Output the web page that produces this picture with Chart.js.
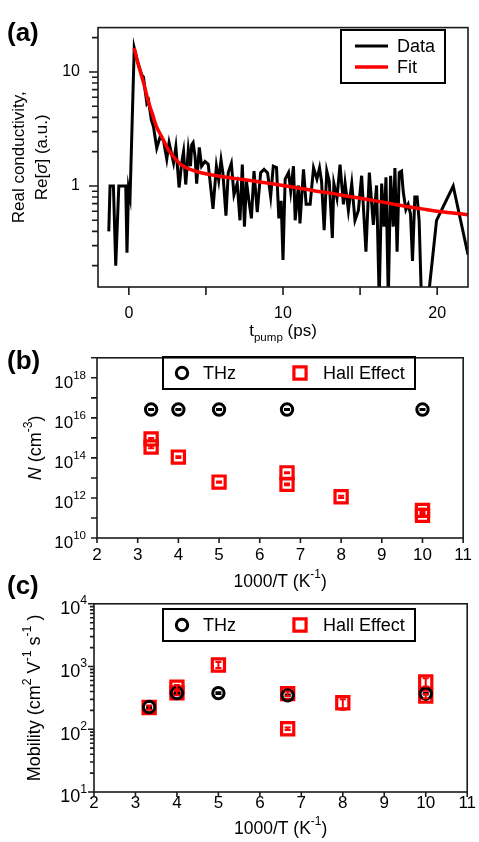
<!DOCTYPE html>
<html>
<head>
<meta charset="utf-8">
<script src="https://cdn.jsdelivr.net/npm/chart.js@4.4.1/dist/chart.umd.min.js"></script>
<style>
  body { margin: 0; background: #fff; }
  #wrap { position: relative; width: 479px; height: 842px; }
  .panel { position: absolute; left: 0; width: 479px; }
  .tag { position: absolute; left: 7px; font: bold 26px "Liberation Sans", Arial, sans-serif; line-height: 1; }
</style>
</head>
<body>
<div id="wrap">
  <div class="panel" style="top:0;height:346px"><canvas id="chartA"></canvas></div>
  <div class="panel" style="top:346px;height:246px"><canvas id="chartB"></canvas></div>
  <div class="panel" style="top:592px;height:250px"><canvas id="chartC"></canvas></div>
  <div class="tag" style="top:19px">(a)</div>
  <div class="tag" style="top:347px">(b)</div>
  <div class="tag" style="top:572px">(c)</div>
</div>
<script>
// (a) transient photoconductivity
const decayTime = [-1.3, -1.22, -1.0, -0.85, -0.65, -0.2, -0.12, -0.02, 0.08, 0.35,
  0.55, 0.84, 0.95, 1.05, 1.17, 1.28, 1.46, 1.6, 1.81, 2.03,
  2.25, 2.46, 2.61, 2.9, 3.05, 3.26, 3.43, 3.55, 3.69, 3.86,
  4.0, 4.08, 4.17, 4.3, 4.4, 4.57, 4.72, 4.94, 5.15, 5.46,
  5.68, 5.83, 5.98, 6.1, 6.3, 6.45, 6.65, 6.82, 7.03, 7.21,
  7.36, 7.5, 7.63, 7.79, 7.95, 8.12, 8.33, 8.55, 8.77, 9.0,
  9.2, 9.37, 9.58, 9.73, 9.88, 10.0, 10.14, 10.36, 10.5, 10.68,
  10.79, 11.0, 11.1, 11.33, 11.5, 11.76, 11.98, 12.2, 12.37, 12.5,
  12.67, 12.84, 13.0, 13.2, 13.3, 13.5, 13.7, 13.92, 14.03, 14.24,
  14.46, 14.67, 14.89, 15.1, 15.38, 15.6, 15.86, 16.07, 16.24, 16.4,
  16.55, 16.68, 16.83, 16.98, 17.15, 17.26, 17.4, 17.54, 17.69, 17.8,
  17.97, 18.12, 18.27, 18.4, 18.55, 18.7, 18.83, 18.98, 19.41, 19.96,
  21.04, 22.0];
const decaySignal = [0.40, 1.00, 1.00, 0.20, 1.00, 1.00, 0.26, 0.95, 0.80, 16.2,
  12.5, 9.4, 9.0, 7.0, 5.3, 5.6, 3.8, 3.3, 2.15, 2.7,
  2.5, 1.72, 2.4, 1.6, 2.2, 0.97, 1.6, 2.0, 1.03, 2.09,
  1.49, 2.3, 2.4, 1.8, 1.05, 2.18, 1.49, 1.64, 1.55, 0.63,
  1.49, 1.12, 1.69, 1.30, 0.55, 1.31, 1.58, 0.84, 1.05, 0.50,
  1.54, 0.44, 1.10, 0.74, 0.52, 1.35, 0.59, 1.31, 1.40, 1.30,
  0.81, 1.49, 1.45, 0.52, 0.74, 0.225, 1.15, 1.31, 0.90, 1.49,
  0.50, 1.01, 0.47, 1.40, 0.69, 0.69, 1.44, 1.15, 1.44, 1.10,
  0.41, 1.35, 1.10, 0.35, 1.05, 0.785, 1.54, 0.69, 1.05, 0.61,
  1.05, 0.50, 0.61, 1.23, 0.265, 1.31, 0.455, 1.01, 0.10, 1.05,
  0.44, 1.19, 0.10, 1.23, 0.44, 1.44, 0.265, 1.31, 1.35, 0.89,
  0.62, 0.69, 0.57, 0.22, 0.80, 0.80, 0.50, 0.10, 0.10, 0.50,
  1.00, 0.25];
const fitTime = [0.35, 0.6, 0.97, 1.25, 1.5, 1.8, 2.2, 2.5, 2.8, 3.1,
  3.4, 3.8, 4.4, 5.0, 6.0, 7.0, 8.0, 9.0, 10.0, 11.0,
  12.0, 13.0, 14.0, 15.0, 16.0, 17.0, 18.0, 19.0, 20.0, 21.0, 22.0];
const fitSignal = [16.2, 11.8, 7.9, 5.6, 4.4, 3.3, 2.6, 2.15, 1.88, 1.68,
  1.53, 1.43, 1.34, 1.28, 1.21, 1.16, 1.11, 1.06, 1.01, 0.96,
  0.91, 0.87, 0.82, 0.78, 0.74, 0.70, 0.66, 0.63, 0.60, 0.58, 0.56];
const aTicksX = [0, 5, 10, 15, 20];
const aLabelsX = [0, 10, 20];
const aTicksY = [0.2, 0.3, 0.4, 0.5, 0.6, 0.7, 0.8, 0.9, 1, 2, 3, 4, 5, 6, 7, 8, 9, 10, 20];
const aLabelsY = [1, 10];

// (b) carrier density and (c) mobility vs 1000/T
const thzInvT = [3.33, 4, 5, 6.67, 10];
const thzDensity = [2.6e16, 2.6e16, 2.6e16, 2.6e16, 2.6e16];
const thzDensityLo = [2.45e16, 2.45e16, 2.45e16, 2.45e16, 2.45e16];
const thzDensityHi = [2.75e16, 2.75e16, 2.75e16, 2.75e16, 2.75e16];
const hallInvTN = [3.33, 3.33, 4, 5, 6.67, 6.67, 8, 10, 10];
const hallDensity = [8.9e14, 3.5e14, 1.1e14, 6.2e12, 1.8e13, 4.8e12, 1.15e12, 2.4e11, 1.35e11];
const hallDensityLo = [7.5e14, 3.0e14, 1.0e14, 5.8e12, 1.7e13, 4.3e12, 1.0e12, 2.0e11, 1.15e11];
const hallDensityHi = [1.0e15, 4.0e14, 1.2e14, 6.6e12, 1.9e13, 5.3e12, 1.3e12, 2.9e11, 1.6e11];
const thzMobility = [226, 377, 377, 347, 369];
const thzMobilityLo = [219, 366, 366, 337, 358];
const thzMobilityHi = [233, 388, 388, 357, 380];
const hallInvTMu = [3.33, 4, 4, 5, 6.67, 6.67, 8, 10, 10];
const hallMobility = [222, 467, 380, 1060, 370, 102, 265, 569, 337];
const hallMobilityLo = [205, 430, 350, 950, 340, 97, 205, 480, 310];
const hallMobilityHi = [240, 510, 410, 1180, 400, 107, 300, 650, 365];
const bcTicksX = [2, 3, 4, 5, 6, 7, 8, 9, 10, 11];
const bDecadeTicks = [1e10, 1e11, 1e12, 1e13, 1e14, 1e15, 1e16, 1e17, 1e18, 1e19];
const bLabelExps = [10, 12, 14, 16, 18];
const cTicksY = [10, 20, 30, 40, 50, 60, 70, 80, 90, 100, 200, 300, 400, 500, 600, 700, 800, 900,
  1000, 2000, 3000, 4000, 5000, 6000, 7000, 8000, 9000, 10000];
const cMajorY = [10, 100, 1000, 10000];
const cLabelExps = [1, 2, 3, 4];

const FONT = '"Liberation Sans", Arial, Helvetica, sans-serif';
const RED = '#ff0000';
const INK = '#1b1b1b';
Chart.defaults.font.family = FONT;
Chart.defaults.color = '#000';

function pts(xs, ys) {
  return xs.map((x, i) => ({ x: x, y: ys[i] }));
}

// text with superscript / subscript / italic pieces, centred on (x, y)
function richText(ctx, segs, x, y, size, align, rot) {
  const small = size * 0.68;
  const fontOf = s => (s[1] === 'i' ? 'italic ' : '') +
    (s[1] === 'sup' || s[1] === 'sub' ? small : size) + 'px ' + FONT;
  ctx.save();
  ctx.translate(x, y);
  ctx.rotate(rot || 0);
  let w = 0;
  segs.forEach(s => { ctx.font = fontOf(s); w += ctx.measureText(s[0]).width; });
  let cx = align === 'right' ? -w : align === 'left' ? 0 : -w / 2;
  ctx.textAlign = 'left';
  ctx.textBaseline = 'alphabetic';
  ctx.fillStyle = '#000';
  segs.forEach(s => {
    ctx.font = fontOf(s);
    let base = size * 0.36;
    if (s[1] === 'sup') base -= size * 0.55;
    if (s[1] === 'sub') base += size * 0.3;
    ctx.fillText(s[0], cx, base);
    cx += ctx.measureText(s[0]).width;
  });
  ctx.restore();
}

function drawMarker(ctx, ds, x, y) {
  ctx.save();
  ctx.strokeStyle = ds.borderColor;
  ctx.lineWidth = ds.borderWidth;
  ctx.beginPath();
  if (ds.pointStyle === 'rect') {
    const s = ds.pointRadius * Math.SQRT1_2;
    ctx.rect(x - s, y - s, 2 * s, 2 * s);
  } else {
    ctx.arc(x, y, ds.pointRadius, 0, Math.PI * 2);
  }
  ctx.stroke();
  ctx.restore();
}

// per-canvas decorations: frame, tick marks, titles, boxed legend, error bars
const decor = {
  chartA: {
    xTickLen: 8, yMajor: aLabelsY, yMajorLen: 9, yMinorLen: 6,
    xTitle: { segs: [['t'], ['pump', 'sub'], [' (ps)']], y: 330, size: 17 },
    yTitles: [
      { segs: [['Real conductivity,']], x: 18, size: 17 },
      { segs: [['Re['], ['σ', 'i'], ['] (a.u.)']], x: 41, size: 17 }
    ],
    legend: { box: [341, 30, 104, 53], lineLen: 33, items: [
      { ds: 0, mx: 355, tx: 397, y: 46 },
      { ds: 1, mx: 355, tx: 397, y: 67 }
    ] }
  },
  chartB: {
    xTickLen: 5, yMajor: bDecadeTicks, yMajorLen: 6, yMinorLen: 6,
    expLabels: { exps: bLabelExps, right: 86, size: 17 },
    xTitle: { segs: [['1000/T (K'], ['-1', 'sup'], [')']], y: 235, size: 17.5 },
    yTitles: [{ segs: [['N', 'i'], [' (cm'], ['-3', 'sup'], [')']], x: 35, size: 18 }],
    legend: { box: [163, 11, 252, 32], items: [
      { ds: 0, mx: 182, tx: 203, y: 27 },
      { ds: 1, mx: 300, tx: 323, y: 27 }
    ] },
    errors: [
      { ds: 0, lo: thzDensityLo, hi: thzDensityHi },
      { ds: 1, lo: hallDensityLo, hi: hallDensityHi }
    ]
  },
  chartC: {
    xTickLen: 5, yMajor: cMajorY, yMajorLen: 6, yMinorLen: 4,
    expLabels: { exps: cLabelExps, right: 87, size: 18 },
    xTitle: { segs: [['1000/T (K'], ['-1', 'sup'], [')']], y: 236, size: 17.5 },
    yTitles: [{ segs: [['Mobility (cm'], ['2', 'sup'], [' V'], ['-1', 'sup'], [' s'], ['-1', 'sup'], [' )']], x: 34, size: 18 }],
    legend: { box: [163, 17, 252, 32], items: [
      { ds: 0, mx: 182, tx: 203, y: 33 },
      { ds: 1, mx: 300, tx: 323, y: 33 }
    ] },
    errors: [
      { ds: 0, lo: thzMobilityLo, hi: thzMobilityHi },
      { ds: 1, lo: hallMobilityLo, hi: hallMobilityHi }
    ]
  }
};

const decoPlugin = {
  id: 'deco',
  afterDatasetsDraw(chart) {
    const d = decor[chart.canvas.id];
    if (!d.errors) return;
    const ctx = chart.ctx, xs = chart.scales.x, ys = chart.scales.y;
    ctx.save();
    d.errors.forEach(e => {
      const ds = chart.data.datasets[e.ds];
      ctx.strokeStyle = ds.borderColor;
      ctx.lineWidth = 2;
      ds.data.forEach((p, i) => {
        const px = xs.getPixelForValue(p.x);
        const y1 = ys.getPixelForValue(e.lo[i]);
        const y2 = ys.getPixelForValue(e.hi[i]);
        ctx.beginPath();
        ctx.moveTo(px, y1); ctx.lineTo(px, y2);
        ctx.moveTo(px - 3, y1); ctx.lineTo(px + 3, y1);
        ctx.moveTo(px - 3, y2); ctx.lineTo(px + 3, y2);
        ctx.stroke();
      });
    });
    ctx.restore();
  },
  afterDraw(chart) {
    const d = decor[chart.canvas.id];
    const ctx = chart.ctx, a = chart.chartArea, xs = chart.scales.x, ys = chart.scales.y;
    ctx.save();
    ctx.strokeStyle = INK;
    ctx.lineWidth = 1.6;
    ctx.strokeRect(a.left, a.top, a.right - a.left, a.bottom - a.top);
    ctx.beginPath();
    xs.ticks.forEach(t => {
      const px = xs.getPixelForValue(t.value);
      ctx.moveTo(px, a.bottom); ctx.lineTo(px, a.bottom + d.xTickLen);
    });
    ys.ticks.forEach(t => {
      const py = ys.getPixelForValue(t.value);
      const len = d.yMajor.includes(t.value) ? d.yMajorLen : d.yMinorLen;
      ctx.moveTo(a.left - len, py); ctx.lineTo(a.left, py);
    });
    ctx.stroke();
    ctx.restore();

    if (d.expLabels) {
      d.expLabels.exps.forEach(e => {
        const py = ys.getPixelForValue(Math.pow(10, e));
        richText(ctx, [['10'], [String(e), 'sup']], d.expLabels.right, py + 4, d.expLabels.size, 'right');
      });
    }
    richText(ctx, d.xTitle.segs, (a.left + a.right) / 2, d.xTitle.y, d.xTitle.size, 'center');
    d.yTitles.forEach(t => {
      richText(ctx, t.segs, t.x, (a.top + a.bottom) / 2, t.size, 'center', -Math.PI / 2);
    });

    const lg = d.legend;
    ctx.save();
    ctx.strokeStyle = '#000';
    ctx.lineWidth = 2;
    ctx.strokeRect(lg.box[0], lg.box[1], lg.box[2], lg.box[3]);
    lg.items.forEach(it => {
      const ds = chart.data.datasets[it.ds];
      if (ds.showLine) {
        ctx.strokeStyle = ds.borderColor;
        ctx.lineWidth = ds.borderWidth;
        ctx.beginPath();
        ctx.moveTo(it.mx, it.y); ctx.lineTo(it.mx + lg.lineLen, it.y);
        ctx.stroke();
      } else {
        drawMarker(ctx, ds, it.mx, it.y);
      }
      richText(ctx, [[ds.label]], it.tx, it.y, 18, 'left');
    });
    ctx.restore();
  }
};

function fixedAxes(yWidth, xHeight) {
  return {
    y: s => { s.width = yWidth; },
    x: s => { s.height = xHeight; }
  };
}

const baseOpts = {
  responsive: true,
  maintainAspectRatio: false,
  animation: false,
  events: [],
  plugins: { legend: { display: false }, tooltip: { enabled: false } }
};

// ---- (a)
const fitA = fixedAxes(98, 59);
new Chart(document.getElementById('chartA'), {
  type: 'scatter',
  data: {
    datasets: [
      { label: 'Data', data: pts(decayTime, decaySignal), showLine: true, borderColor: '#000',
        borderWidth: 3, pointRadius: 0, tension: 0, order: 1, clip: 0 },
      { label: 'Fit', data: pts(fitTime, fitSignal), showLine: true, borderColor: RED,
        borderWidth: 3.5, pointRadius: 0, tension: 0.3, order: 0, clip: 0 }
    ]
  },
  options: Object.assign({}, baseOpts, {
    layout: { padding: { left: 0, right: 11, top: 14, bottom: 0 } },
    scales: {
      x: {
        type: 'linear', min: -2, max: 22,
        afterBuildTicks: s => { s.ticks = aTicksX.map(v => ({ value: v })); },
        afterFit: fitA.x,
        grid: { display: false, drawTicks: false }, border: { display: false },
        ticks: { autoSkip: false, maxRotation: 0, padding: 17, font: { size: 16 },
          callback: v => aLabelsX.includes(v) ? String(v) : '' }
      },
      y: {
        type: 'logarithmic', min: 0.13, max: 24.5,
        afterBuildTicks: s => { s.ticks = aTicksY.map(v => ({ value: v })); },
        afterFit: fitA.y,
        grid: { display: false, drawTicks: false }, border: { display: false },
        ticks: { autoSkip: false, padding: 18, font: { size: 16 },
          callback: v => aLabelsY.includes(v) ? String(v) : '' }
      }
    }
  }),
  plugins: [decoPlugin]
});

// ---- (b) and (c)
function tempChart(id, yWidth, xHeight, pad, yMin, yMax, yTicks, tickPad, thzY, hallX, hallY) {
  const fit = fixedAxes(yWidth, xHeight);
  return new Chart(document.getElementById(id), {
    type: 'scatter',
    data: {
      datasets: [
        { label: 'THz', data: pts(thzInvT, thzY), pointStyle: 'circle', pointRadius: 5.7,
          borderColor: '#000', backgroundColor: 'rgba(0,0,0,0)', borderWidth: 3, order: 0 },
        { label: 'Hall Effect', data: pts(hallX, hallY), pointStyle: 'rect', pointRadius: 8.6,
          borderColor: RED, backgroundColor: 'rgba(0,0,0,0)', borderWidth: 3.2, order: 1 }
      ]
    },
    options: Object.assign({}, baseOpts, {
      layout: { padding: pad },
      scales: {
        x: {
          type: 'linear', min: 2, max: 11,
          afterBuildTicks: s => { s.ticks = bcTicksX.map(v => ({ value: v })); },
          afterFit: fit.x,
          grid: { display: false, drawTicks: false }, border: { display: false },
          ticks: { autoSkip: false, maxRotation: 0, padding: tickPad, font: { size: 17 } }
        },
        y: {
          type: 'logarithmic', min: yMin, max: yMax,
          afterBuildTicks: s => { s.ticks = yTicks.map(v => ({ value: v })); },
          afterFit: fit.y,
          grid: { display: false, drawTicks: false }, border: { display: false },
          ticks: { display: false }
        }
      }
    }),
    plugins: [decoPlugin]
  });
}

tempChart('chartB', 97, 54, { left: 0, right: 11, top: 7, bottom: 0 }, 1e10, 1e19, bDecadeTicks, 7,
  thzDensity, hallInvTN, hallDensity);
tempChart('chartC', 94, 50, { left: 0, right: 9, top: 11, bottom: 0 }, 10, 1e4, cTicksY, 1,
  thzMobility, hallInvTMu, hallMobility);
</script>
</body>
</html>
